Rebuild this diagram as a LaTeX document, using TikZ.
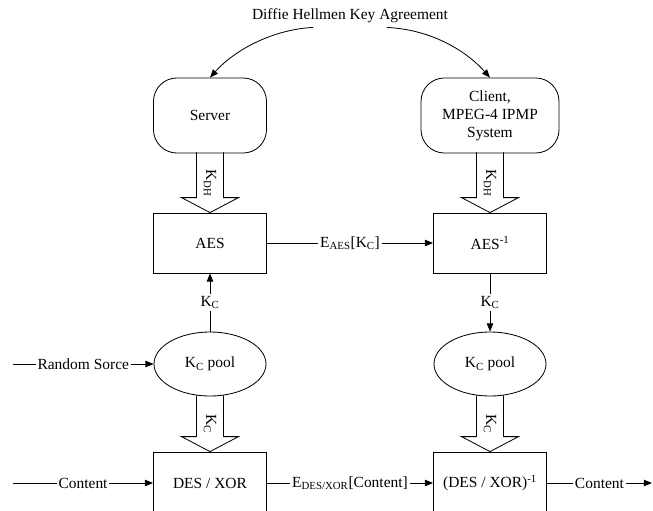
\documentclass[tikz,border=0pt]{standalone}
\usepackage{fontspec}
\setmainfont{Liberation Serif}
\usetikzlibrary{arrows.meta, positioning, shapes.geometric, calc}
\tikzset{
  every picture/.style={font=\fontsize{13.2}{15.5}\selectfont, line width=0.7pt},
  party/.style={draw, rounded corners=0.7cm, align=center, minimum width=3.39cm, minimum height=2.25cm, inner sep=0pt},
  cipher/.style={draw, align=center, minimum width=3.39cm, minimum height=#1, inner sep=0pt},
  cipher/.default=1.8cm,
  pool/.style={draw, ellipse, minimum width=3.36cm, minimum height=1.92cm, inner sep=0pt},
  link/.style={-{Triangle[length=7pt, width=5.5pt]}},
  lbl/.style={fill=white, inner sep=1.5pt},
  fat/.style={line join=miter},
}
\newcommand{\fatarrow}[3]{%
  \draw[fat] ($(#1.south)+(-13.5,-1)$) -- ($(#2.north)+(-13.5,-15)$) -- ($(#2.north)+(-28.5,-15)$)
    -- (#2.north) -- ($(#2.north)+(28.5,-15)$) -- ($(#2.north)+(13.5,-15)$) -- ($(#1.south)+(13.5,-1)$);
  \node[rotate=-90] (#1key) at ($(#1.south)!0.5!(#2.north)$) {#3};
}

\begin{document}
\begin{tikzpicture}[x=0.03cm, y=-0.03cm]
  \useasboundingbox (0,0) rectangle (653,510);
  \node (dh) at (350,16) {Diffie Hellmen Key Agreement};
  \node[party] (srv) at (210,115.5) {Server};
  \node[party, minimum width=4.14cm] (cli) at (490,115.5) {Client,\\MPEG-4 IPMP\\System};
  \node[cipher] (aes) at (210,243) {AES};
  \node[cipher] (aesinv) at (490,243) {AES\textsuperscript{-1}};
  \node[pool] (poolL) at (210,364) {K\textsubscript{C} pool};
  \node[pool] (poolR) at (490,364) {K\textsubscript{C} pool};
  \node[cipher=1.86cm] (des) at (210,483) {DES / XOR};
  \node[cipher=1.86cm] (desinv) at (490,483) {(DES / XOR)\textsuperscript{-1}};
  \coordinate (rsrc) at (13,364);
  \coordinate (cin) at (13,483);
  \coordinate (cout) at (652,483);

  % key agreement
  \draw[link] ($(dh.south west)!0.32!(dh.south east)$) .. controls +(-40,2) and +(25,-28) .. (srv.north);
  \draw[link] ($(dh.south west)!0.68!(dh.south east)$) .. controls +(43,2) and +(-25,-28) .. (cli.north);

  \fatarrow{srv}{aes}{K\textsubscript{DH}}
  \fatarrow{cli}{aesinv}{K\textsubscript{DH}}
  \fatarrow{poolL}{des}{K\textsubscript{C}}
  \fatarrow{poolR}{desinv}{K\textsubscript{C}}

  \draw[link] (aes) -- node[lbl] (eaes) {E\textsubscript{AES}[K\textsubscript{C}]} (aesinv);
  \draw[link] (poolL) -- node[lbl] (kcl) {K\textsubscript{C}} (aes);
  \draw[link] (aesinv) -- node[lbl] (kcr) {K\textsubscript{C}} (poolR);
  \draw[link] (rsrc) -- node[lbl] (rs) {Random Sorce} (poolL);
  % content path
  \draw[link] (cin) -- node[lbl] (ci) {Content} (des);
  \draw[link] (des) -- node[lbl] (edes) {E\textsubscript{DES/XOR}[Content]} (desinv);
  \draw[link] (desinv) -- node[lbl] (co) {Content} (cout);
\end{tikzpicture}
\end{document}
